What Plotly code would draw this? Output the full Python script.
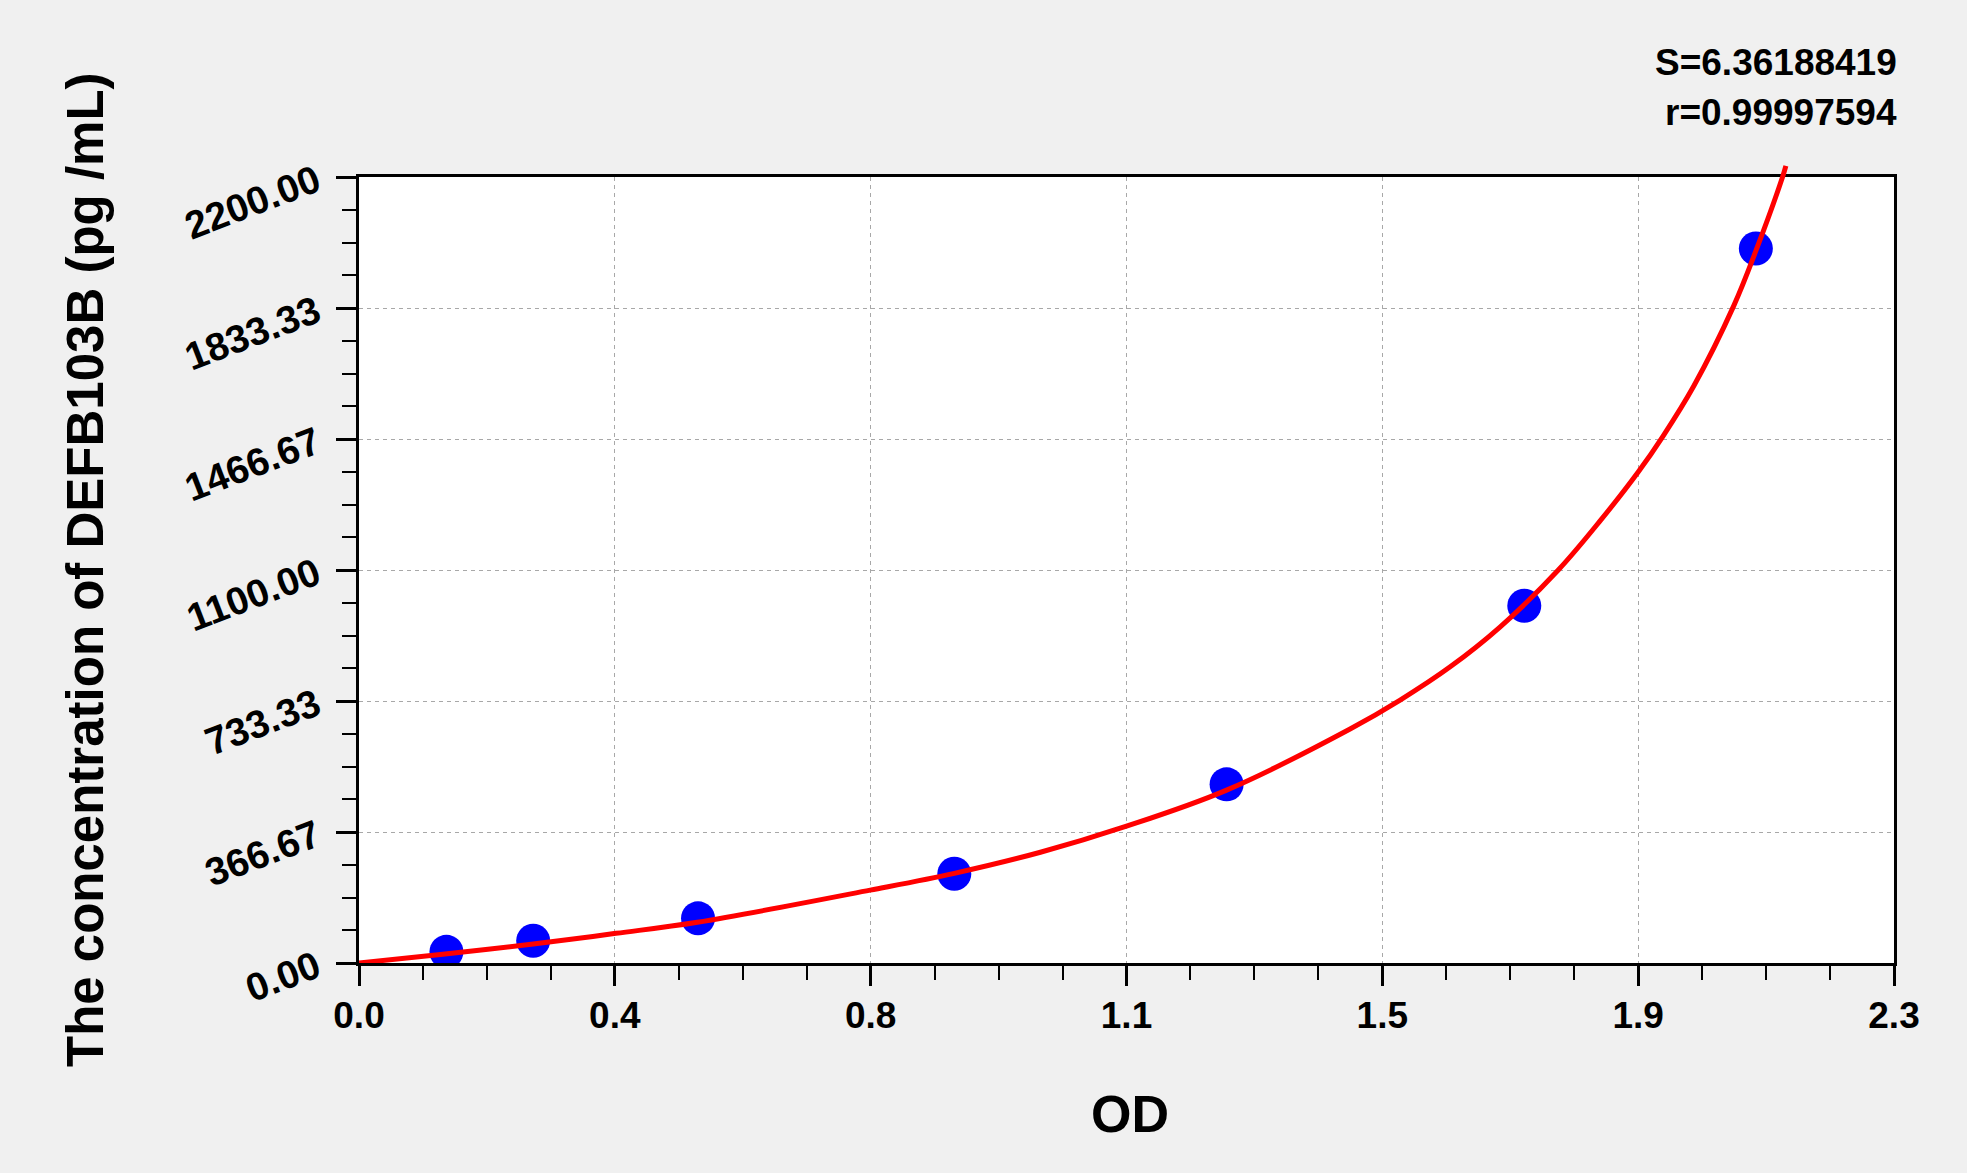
import plotly.graph_objects as go

# ---- data ----
std_od = [0.131, 0.261, 0.508, 0.892, 1.300, 1.746, 2.093]
std_conc = [31.25, 62.5, 125, 250, 500, 1000, 2000]

curve_od = [0.0, 0.122, 0.261, 0.385, 0.507, 0.766, 0.892, 1.021, 1.150,
            1.300, 1.485, 1.560, 1.635, 1.710, 1.797, 1.859, 1.917, 1.954,
            2.000, 2.060, 2.093, 2.133, 2.138]
curve_conc = [0, 24, 53, 83, 114, 204, 251, 310, 383,
              484, 655, 736, 829, 941, 1100, 1236, 1375, 1475,
              1615, 1840, 1993, 2200, 2231]

x_tickvals = [0.0, 2.3 / 6, 2 * 2.3 / 6, 3 * 2.3 / 6, 4 * 2.3 / 6, 5 * 2.3 / 6, 2.3]
x_ticktext = ["0.0", "0.4", "0.8", "1.1", "1.5", "1.9", "2.3"]
y_tickvals = [0.0, 2200 / 6, 2 * 2200 / 6, 3 * 2200 / 6, 4 * 2200 / 6, 5 * 2200 / 6, 2200]
y_ticktext = ["0.00", "366.67", "733.33", "1100.00", "1466.67", "1833.33", "2200.00"]

x_range = [0, 2.3]
y_range = [0, 2200]

stat_s = "S=6.36188419"
stat_r = "r=0.99997594"
x_title = "OD"
y_title = "The concentration of DEFB103B (pg /mL)"

# ---- layout geometry ----
W, H = 1967, 1173
ML, MR, MT, MB = 359, 73, 157, 210
plot_h = H - MT - MB
D = (963 - 177) / plot_h  # main y-domain top

FONT = "Liberation Sans"
xtickfont = dict(family=FONT, size=37, color="black", weight="bold")
ytickfont = dict(family=FONT, size=39, color="black", weight="bold")

fig = go.Figure()

fig.add_trace(go.Scatter(
    x=std_od, y=std_conc, mode="markers",
    marker=dict(color="#0000ff", size=34, line=dict(width=0)),
    xaxis="x", yaxis="y", showlegend=False, hoverinfo="skip"))

fig.add_trace(go.Scatter(
    x=curve_od, y=curve_conc, mode="lines",
    line=dict(color="#ff0000", width=5, shape="spline", smoothing=1.0),
    xaxis="x2", yaxis="y2", showlegend=False, hoverinfo="skip"))

grid = dict(showgrid=True, gridcolor="#a8a8a8", gridwidth=1, griddash="4px,4px")

fig.update_layout(
    width=W, height=H,
    margin=dict(l=ML, r=MR, t=MT, b=MB, pad=0),
    paper_bgcolor="#f0f0f0",
    plot_bgcolor="rgba(0,0,0,0)",
    xaxis=dict(
        domain=[0, 1], range=x_range, tickmode="array",
        tickvals=x_tickvals, ticktext=x_ticktext, tickfont=xtickfont,
        ticks="outside", ticklen=20, tickwidth=2.5, tickcolor="black",
        showline=True, linecolor="black", linewidth=3, mirror=True,
        zeroline=False, anchor="y", ticklabelstandoff=-2,
        minor=dict(dtick=2.3 / 24, tick0=0, ticks="outside", ticklen=14,
                   tickwidth=2, tickcolor="black", showgrid=False),
        **grid),
    yaxis=dict(
        domain=[0, D], range=y_range, tickmode="array",
        tickvals=y_tickvals, ticktext=y_ticktext, tickfont=ytickfont,
        tickangle=-21, ticklabelstandoff=12,
        ticks="outside", ticklen=20, tickwidth=2.5, tickcolor="black",
        showline=True, linecolor="black", linewidth=3, mirror=True,
        zeroline=False, anchor="x",
        minor=dict(dtick=2200 / 24, tick0=0, ticks="outside", ticklen=14,
                   tickwidth=2, tickcolor="black", showgrid=False),
        **grid),
    xaxis2=dict(domain=[0, 1], range=x_range, visible=False, anchor="y2",
                showgrid=False, zeroline=False),
    yaxis2=dict(domain=[0, 1], range=[0, y_range[1] / D], visible=False,
                anchor="x2", showgrid=False, zeroline=False),
    shapes=[dict(type="rect", xref="x domain", yref="y domain",
                 x0=0, x1=1, y0=0, y1=1, fillcolor="white",
                 line=dict(width=0), layer="below")],
    annotations=[
        dict(text=stat_s, xref="paper", yref="paper",
             x=(1899 - ML) / (W - ML - MR), y=(963 - 63) / plot_h,
             xanchor="right", yanchor="middle", showarrow=False,
             font=dict(family=FONT, size=37, color="black", weight="bold")),
        dict(text=stat_r, xref="paper", yref="paper",
             x=(1899 - ML) / (W - ML - MR), y=(963 - 113) / plot_h,
             xanchor="right", yanchor="middle", showarrow=False,
             font=dict(family=FONT, size=37, color="black", weight="bold")),
        dict(text=x_title, xref="paper", yref="paper",
             x=(1130 - ML) / (W - ML - MR), y=(963 - 1114) / plot_h,
             xanchor="center", yanchor="middle", showarrow=False,
             font=dict(family=FONT, size=52, color="black", weight="bold")),
        dict(text=y_title, xref="paper", yref="paper", textangle=-90,
             x=(85 - ML) / (W - ML - MR), y=(963 - 570) / plot_h,
             xanchor="center", yanchor="middle", showarrow=False,
             font=dict(family=FONT, size=51, color="black", weight="bold")),
    ],
)

fig.write_html("out.html", config={"displayModeBar": False},
               post_script="document.body.style.margin='0px';document.body.style.overflow='hidden';")
